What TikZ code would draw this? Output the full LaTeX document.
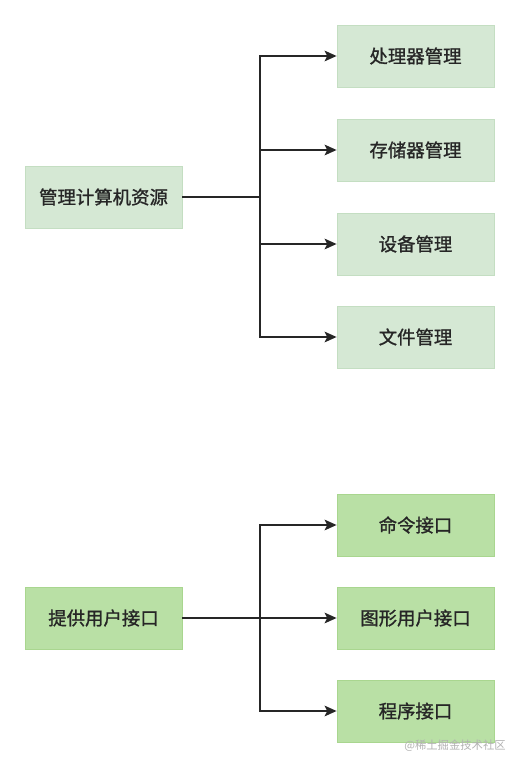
\documentclass[tikz,border=0pt]{standalone}
\usepackage{fontspec}
\setmainfont{Noto Sans CJK SC}
\newfontfamily\boxfont[FakeBold=1.2]{Noto Sans CJK SC}
\usetikzlibrary{arrows.meta,positioning}
\definecolor{resgreen}{HTML}{D5E8D4}
\definecolor{resline}{HTML}{C4DEC2}
\definecolor{ifgreen}{HTML}{B9E0A5}
\definecolor{ifline}{HTML}{A9D68F}

\begin{document}
\begin{tikzpicture}[x=0.75pt, y=-0.75pt, >={Stealth[length=9pt,width=8pt,inset=2pt]},
  every node/.style={font=\boxfont\fontsize{13.8}{16}\selectfont, text=black!85},
  box/.style={minimum width=117.75pt, minimum height=46.5pt, inner sep=0pt},
  resbox/.style={box, fill=resgreen, draw=resline, line width=0.6pt},
  ifbox/.style={box, fill=ifgreen, draw=ifline, line width=0.6pt},
  link/.style={draw=black!85, line width=1.1pt}]
 \useasboundingbox (0,0) rectangle (520,770);
 % upper group
 \node[resbox] (res) at (103.5,197) {管理计算机资源};
 \node[resbox] (cpu) at (415.5,56) {处理器管理};
 \node[resbox] (mem) at (415.5,150) {存储器管理};
 \node[resbox] (dev) at (415.5,244) {设备管理};
 \node[resbox] (file) at (415.5,337) {文件管理};
 \coordinate (resfork) at (260,197);
 \draw[link] (res) -- (resfork);
 \draw[link,->] (resfork) |- (cpu);
 \draw[link,->] (resfork) |- (mem);
 \draw[link,->] (resfork) |- (dev);
 \draw[link,->] (resfork) |- (file);
 % lower group
 \node[ifbox] (user) at (103.5,618) {提供用户接口};
 \node[ifbox] (cmd) at (415.5,525) {命令接口};
 \node[ifbox] (gui) at (415.5,618) {图形用户接口};
 \node[ifbox] (prog) at (415.5,711) {程序接口};
 \coordinate (iffork) at (260,618);
 \draw[link] (user) -- (iffork);
 \draw[link,->] (iffork) -- (gui);
 \draw[link,->] (iffork) |- (cmd);
 \draw[link,->] (iffork) |- (prog);
 \node[font=\fontsize{8.5}{10}\selectfont, text=black!30] (mark) at (455,746) {@稀土掘金技术社区};
\end{tikzpicture}
\end{document}
